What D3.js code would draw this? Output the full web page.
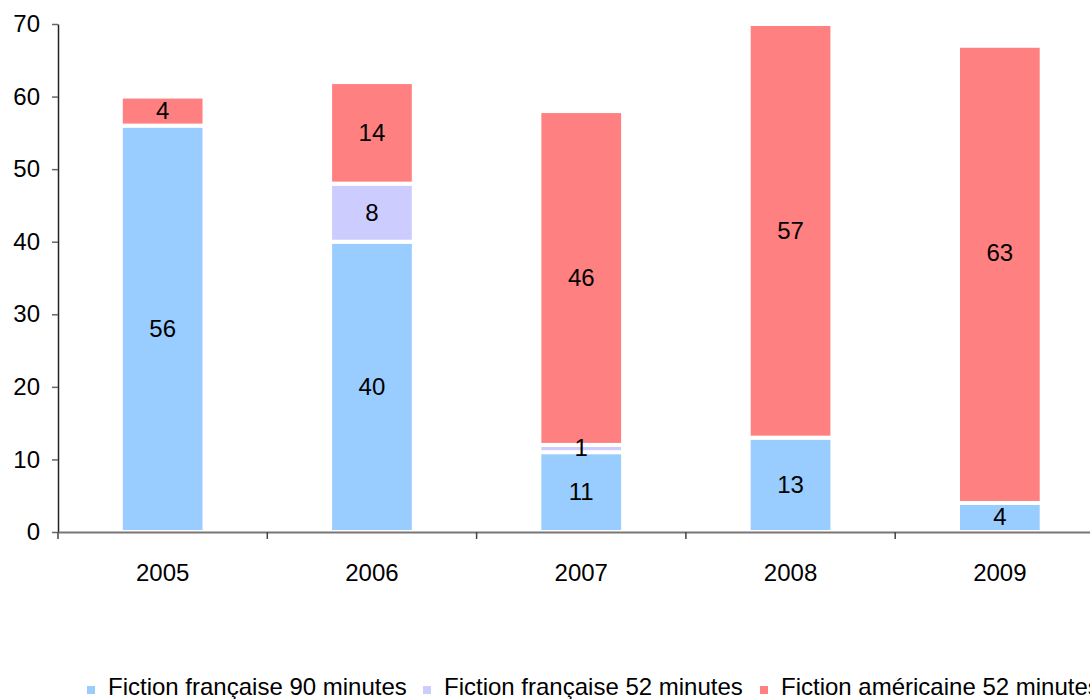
<!DOCTYPE html>
<html><head><meta charset="utf-8">
<script src="https://cdn.jsdelivr.net/npm/d3@7/dist/d3.min.js"></script>
<style>
html,body{margin:0;padding:0;background:#fff;}
svg{display:block;font-family:"Liberation Sans",Arial,sans-serif;}
</style></head>
<body><svg id="c" width="1090" height="699"></svg>
<script>
const years = ["2005","2006","2007","2008","2009"];
const seriesNames = ["Fiction française 90 minutes","Fiction française 52 minutes","Fiction américaine 52 minutes"];
const fr90 = [56, 40, 11, 13, 4];
const fr52 = [0, 8, 1, 0, 0];
const us52 = [4, 14, 46, 57, 63];
// label nudge (in value units) for the américaine labels, as placed in the source
const us52LabelShift = [0, 0, 0, 0, 3];
const colors = ["#99CCFF","#CCCCFF","#FF8080"];
const yTicks = [0,10,20,30,40,50,60,70];

(function(){
const svg = d3.select("#c");
const mLeft = 58, mTop = 24, mBottom = 532, step = 209.3;
const x = d3.scaleBand().domain(years).range([mLeft, mLeft + step*5]).paddingInner(0.6).paddingOuter(0.3);
const y = d3.scaleLinear().domain([0,70]).range([mBottom, mTop]);

const rows = years.map((yr,i)=>({year:yr, idx:i, s0:fr90[i], s1:fr52[i], s2:us52[i]}));
const stacked = d3.stack().keys(["s0","s1","s2"])(rows);

const g = svg.append("g");
stacked.forEach((layer, k) => {
  g.selectAll(null).data(layer).join("rect")
    .attr("x", d => x(d.data.year))
    .attr("width", x.bandwidth())
    .attr("y", d => y(d[1]))
    .attr("height", d => Math.max(0, y(d[0]) - y(d[1])))
    .attr("fill", colors[k])
    .attr("stroke", "#fff")
    .attr("stroke-width", 4);
});
stacked.forEach((layer, k) => {
  g.selectAll(null).data(layer.filter(d => d[1]-d[0] > 0)).join("text")
    .attr("x", d => x(d.data.year) + x.bandwidth()/2)
    .attr("y", d => y((d[0] + d[1])/2 + (k === 2 ? us52LabelShift[d.data.idx] : 0)))
    .attr("dy", "0.33em")
    .attr("text-anchor", "middle")
    .attr("font-size", 24)
    .attr("fill", "#000")
    .text(d => d[1]-d[0]);
});

const ya = svg.append("g").attr("transform", `translate(${mLeft},0)`)
  .call(d3.axisLeft(y).tickValues(yTicks).tickSize(6).tickPadding(12).tickSizeOuter(0));
ya.select(".domain").attr("stroke", "#222").attr("stroke-width", 1.5);
ya.selectAll(".tick line").attr("stroke", "#666").attr("stroke-width", 1.5);
ya.selectAll(".tick text").attr("font-size", 24).attr("fill", "#000").attr("font-family", "Liberation Sans, Arial, sans-serif");

const xa = svg.append("g").attr("transform", `translate(0,${mBottom})`)
  .call(d3.axisBottom(x).tickSize(0).tickPadding(32).tickSizeOuter(0));
xa.select(".domain").attr("stroke", "#777").attr("stroke-width", 2);
xa.selectAll(".tick text").attr("font-size", 24).attr("fill", "#000").attr("font-family", "Liberation Sans, Arial, sans-serif");
const bounds = years.map(yr => x(yr) - x.step()*x.paddingInner()/2).concat([x(years[4]) + x.bandwidth() + x.step()*x.paddingInner()/2]);
svg.append("g").selectAll("line").data(bounds).join("line")
  .attr("x1", d => d).attr("x2", d => d)
  .attr("y1", mBottom).attr("y2", mBottom + 7)
  .attr("stroke", "#444").attr("stroke-width", 1.5);

const legendX = [87, 423, 760];
const lg = svg.append("g");
seriesNames.forEach((n, i) => {
  lg.append("rect").attr("x", legendX[i]).attr("y", 686).attr("width", 8).attr("height", 8).attr("fill", colors[i]);
  lg.append("text").attr("x", legendX[i] + 21).attr("y", 695).attr("font-size", 24).attr("fill", "#000").text(n);
});
})();
</script></body></html>
